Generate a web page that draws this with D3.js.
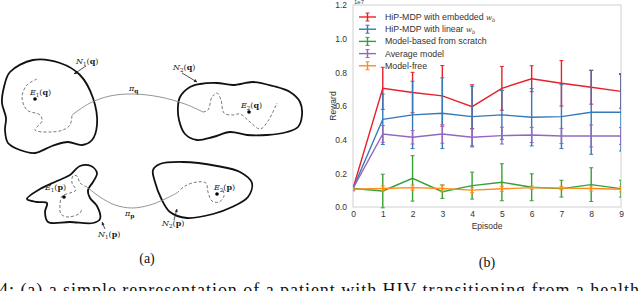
<!DOCTYPE html>
<html><head><meta charset="utf-8">
<script src="https://cdn.jsdelivr.net/npm/d3@7"></script>
<style>body{margin:0;background:#fff}svg{display:block}</style>
</head><body>
<svg id="c" width="640" height="291"></svg>
<script>
// ---------- chart data (values in units of 1e7) ----------
const episodes = [0,1,2,3,4,5,6,7,8,9];
const yTicks = [0.0,0.2,0.4,0.6,0.8,1.0,1.2];
const seriesNames = ["HiP-MDP with embedded ", "HiP-MDP with linear ", "Model-based from scratch", "Average model", "Model-free"];
const seriesColors = ["#e8202a", "#3579b8", "#35a035", "#9467bd", "#ff8c1a"];
const embeddedMean = [0.11,0.705,0.68,0.66,0.596,0.705,0.762,0.735,0.711,0.687];
const embeddedErr  = [0.01,0.125,0.12,0.18,0.13,0.13,0.077,0.135,0.10,0.10];
const linearMean   = [0.11,0.521,0.547,0.557,0.537,0.547,0.533,0.537,0.563,0.563];
const linearErr    = [0.01,0.15,0.2,0.21,0.18,0.145,0.17,0.19,0.25,0.23];
const scratchMean  = [0.11,0.095,0.17,0.091,0.127,0.147,0.117,0.109,0.133,0.109];
const scratchErr   = [0.01,0.1,0.135,0.04,0.08,0.11,0.08,0.05,0.1,0.05];
const averageMean  = [0.11,0.434,0.414,0.434,0.414,0.424,0.428,0.422,0.422,0.422];
const averageErr   = [0.01,0.05,0.04,0.055,0.05,0.05,0.045,0.045,0.065,0.05];
const freeMean     = [0.105,0.11,0.115,0.11,0.1,0.108,0.115,0.112,0.11,0.105];
const freeErr      = [0.01,0.015,0.015,0.02,0.015,0.015,0.01,0.01,0.015,0.015];

// ---------- diagram shapes ----------
const blobN1q = [[10,72],[33,60],[60,63],[80,75],[93,98],[97,125],[92,140],[82,145],[68,142],[52,146],[35,153],[20,150],[8,143],[5,130],[6,118],[2,103],[4,87]];
const blobN2q = [[180,97],[190,87],[200,84],[217,83],[233,85],[253,82],[273,86],[290,92],[300,102],[302,115],[298,127],[287,132],[267,135],[247,135],[230,132],[213,137],[197,140],[185,134],[179,120],[178,106]];
const dashN1q = [[37,79],[27,85],[22,97],[27,110],[40,115],[42,121],[35,130],[50,132],[63,130],[70,125],[72,115]];
const pathPiQ = [[72,115],[90,103],[110,96],[133,94],[160,97],[185,104],[203,112]];
const dashN2q = [[203,112],[208,110],[212,97],[217,93],[221,100],[224,113],[233,115],[240,114],[250,122],[260,129],[268,121],[277,103]];
const blobN1p = [[27,199],[40,189],[57,181],[70,175],[80,166],[91,166],[97,173],[93,182],[88,190],[90,198],[97,206],[100,219],[93,223],[70,222],[48,222],[45,212],[47,203],[37,202]];
const blobN2p = [[153,170],[160,164],[183,162],[217,166],[240,172],[252,183],[248,197],[232,207],[213,214],[187,218],[170,212],[161,198],[155,182]];
const dashN1p = [[87,187],[80,183],[77,176],[73,176],[72,183],[76,190],[70,193],[62,196],[60,205],[61,214],[68,217],[80,213],[82,208]];
const pathPiP = [[87,187],[100,197],[115,205],[132,208],[150,205],[165,199],[177,193]];
const dashN2p = [[177,193],[185,186],[197,182],[206,183],[208,192],[212,201],[219,202],[224,196],[223,190]];

const svg = d3.select("#c");
const g = svg.append("g");

// ---------- diagram ----------
const closed = d3.line().curve(d3.curveCatmullRomClosed.alpha(0.5));
const open = d3.line().curve(d3.curveCatmullRom.alpha(0.5));
[blobN1q, blobN2q, blobN1p, blobN2p].forEach(b => {
  g.append("path").attr("d", closed(b)).attr("fill","none").attr("stroke","#111").attr("stroke-width", 1.8);
});
[dashN1q, dashN2q, dashN1p, dashN2p].forEach(b => {
  g.append("path").attr("d", open(b)).attr("fill","none").attr("stroke","#555").attr("stroke-width",0.8).attr("stroke-dasharray","3,2");
});
[pathPiQ, pathPiP].forEach(b => {
  g.append("path").attr("d", open(b)).attr("fill","none").attr("stroke","#888").attr("stroke-width",0.9);
});
const dots = [[35,99],[249,112],[64,197],[217,194]];
g.selectAll("circle.dot").data(dots).join("circle").attr("cx",d=>d[0]).attr("cy",d=>d[1]).attr("r",1.8).attr("fill","#000");
const arrows = [[[86,66],[74,74]],[[182,73],[197,82]],[[105,229],[102,222]],[[174,220],[177,209]]];
arrows.forEach(a => {
  const [p,q] = a;
  g.append("line").attr("x1",p[0]).attr("y1",p[1]).attr("x2",q[0]).attr("y2",q[1]).attr("stroke","#222").attr("stroke-width",0.8);
  const ang = Math.atan2(q[1]-p[1], q[0]-p[0]);
  const L=3, W=1.6;
  const bx=q[0]-L*Math.cos(ang), by=q[1]-L*Math.sin(ang);
  g.append("path").attr("d",`M${q[0]},${q[1]}L${bx-W*Math.sin(ang)},${by+W*Math.cos(ang)}L${bx+W*Math.sin(ang)},${by-W*Math.cos(ang)}Z`).attr("fill","#222");
});
function mathLabel(x,y,letter,sub,arg){
  const t = g.append("text").attr("x",x).attr("y",y).attr("font-family","'DejaVu Serif','Liberation Serif',serif").attr("font-size",8).attr("fill","#222");
  t.append("tspan").attr("font-style","italic").text(letter);
  if(sub) t.append("tspan").attr("font-size",5.5).attr("dy",1.5).text(sub);
  if(arg){
    t.append("tspan").attr("dy", sub?-1.5:0).text("(");
    t.append("tspan").attr("font-weight","bold").text(arg);
    t.append("tspan").text(")");
  }
  return t;
}
mathLabel(76,64,"N","1","q");
mathLabel(173,70,"N","2","q");
mathLabel(30,95,"E","1","q");
mathLabel(241,108,"E","2","q");
{ const t=g.append("text").attr("x",129).attr("y",91).attr("font-family","'DejaVu Serif',serif").attr("font-size",8).attr("fill","#222");
  t.append("tspan").attr("font-style","italic").text("π");
  t.append("tspan").attr("font-weight","bold").attr("font-size",6).attr("dy",1.5).text("q"); }
mathLabel(45,190,"E","1","p");
mathLabel(214,190,"E","2","p");
{ const t=g.append("text").attr("x",125).attr("y",216).attr("font-family","'DejaVu Serif',serif").attr("font-size",8).attr("fill","#222");
  t.append("tspan").attr("font-style","italic").text("π");
  t.append("tspan").attr("font-weight","bold").attr("font-size",6).attr("dy",1.5).text("p"); }
mathLabel(162,226,"N","2","p");
mathLabel(98,237,"N","1","p");

// captions
svg.append("text").attr("x",147).attr("y",263).attr("text-anchor","middle").attr("font-family","'Liberation Serif',serif").attr("font-size",14).attr("fill","#111").text("(a)");
svg.append("text").attr("x",487).attr("y",267).attr("text-anchor","middle").attr("font-family","'Liberation Serif',serif").attr("font-size",14).attr("fill","#111").text("(b)");
svg.append("text").attr("x",-1).attr("y",296).attr("font-family","'Liberation Serif',serif").attr("font-size",18).attr("fill","#111")
  .attr("textLength",650).attr("lengthAdjust","spacing")
  .text("4: (a) a simple representation of a patient with HIV transitioning from a healthy");

// ---------- chart ----------
const x = d3.scaleLinear().domain([0,9]).range([353,621]);
const y = d3.scaleLinear().domain([0,1.2]).range([207,5]);
const ch = svg.append("g");
ch.append("rect").attr("x",353).attr("y",5).attr("width",268).attr("height",202).attr("fill","none").attr("stroke","#d0d0d0").attr("stroke-width",1);
svg.append("clipPath").attr("id","clip").append("rect").attr("x",353).attr("y",0).attr("width",268).attr("height",210);

const yAxis = ch.append("g").attr("transform","translate(353,0)").call(d3.axisLeft(y).tickValues(yTicks).tickSize(0).tickPadding(6).tickFormat(d3.format(".1f")));
const xAxis = ch.append("g").attr("transform","translate(0,207)").call(d3.axisBottom(x).tickValues(episodes).tickSize(0).tickPadding(4).tickFormat(d3.format("d")));
[yAxis,xAxis].forEach(a=>{a.select(".domain").remove(); a.selectAll("text").attr("font-family","'Liberation Sans',Arial,sans-serif").attr("font-size",8.5).attr("fill","#333");});
ch.append("text").attr("x",354).attr("y",4).attr("font-family","'Liberation Sans',sans-serif").attr("font-size",6).attr("fill","#444").text("1e7");
ch.append("text").attr("transform","translate(336,106) rotate(-90)").attr("text-anchor","middle").attr("font-family","'Liberation Sans',sans-serif").attr("font-size",8.5).attr("fill","#333").text("Reward");
ch.append("text").attr("x",487).attr("y",229).attr("text-anchor","middle").attr("font-family","'Liberation Sans',sans-serif").attr("font-size",8.5).attr("fill","#333").text("Episode");

const means = [embeddedMean, linearMean, scratchMean, averageMean, freeMean];
const errs = [embeddedErr, linearErr, scratchErr, averageErr, freeErr];
const plot = ch.append("g").attr("clip-path","url(#clip)");
const line = d3.line().x((d,i)=>x(episodes[i])).y(d=>y(d));
means.forEach((m,si)=>{
  const col = seriesColors[si];
  const sg = plot.append("g");
  sg.append("path").attr("d",line(m)).attr("fill","none").attr("stroke",col).attr("stroke-width",1.4);
  const pts = m.map((v,i)=>({x:episodes[i], v, e:errs[si][i]}));
  sg.selectAll("line.eb").data(pts).join("line").attr("x1",d=>x(d.x)).attr("x2",d=>x(d.x)).attr("y1",d=>y(d.v-d.e)).attr("y2",d=>y(d.v+d.e)).attr("stroke",col).attr("stroke-width",1.4);
  [-1,1].forEach(s=>{
    sg.selectAll("line.cap"+s).data(pts).join("line").attr("x1",d=>x(d.x)-2).attr("x2",d=>x(d.x)+2).attr("y1",d=>y(d.v+s*d.e)).attr("y2",d=>y(d.v+s*d.e)).attr("stroke",col).attr("stroke-width",1);
  });
});

// legend
const lg = ch.append("g");
seriesNames.forEach((name,i)=>{
  const yy = 17 + i*12.2;
  const col = seriesColors[i];
  lg.append("line").attr("x1",359).attr("x2",376).attr("y1",yy).attr("y2",yy).attr("stroke",col).attr("stroke-width",1.4);
  lg.append("line").attr("x1",367.5).attr("x2",367.5).attr("y1",yy-4).attr("y2",yy+4).attr("stroke",col).attr("stroke-width",1.4);
  lg.append("line").attr("x1",365.5).attr("x2",369.5).attr("y1",yy-4).attr("y2",yy-4).attr("stroke",col).attr("stroke-width",1);
  lg.append("line").attr("x1",365.5).attr("x2",369.5).attr("y1",yy+4).attr("y2",yy+4).attr("stroke",col).attr("stroke-width",1);
  const t = lg.append("text").attr("x",385).attr("y",yy+3).attr("font-family","'Liberation Sans',Arial,sans-serif").attr("font-size",8.8).attr("fill","#333").text(name);
  if(i<2){
    t.append("tspan").attr("font-family","'DejaVu Serif',serif").attr("font-style","italic").attr("font-size",7).text("w");
    t.append("tspan").attr("font-family","'DejaVu Serif',serif").attr("font-style","italic").attr("font-size",5).attr("dy",1.5).text("b");
  }
});
</script>
</body></html>
